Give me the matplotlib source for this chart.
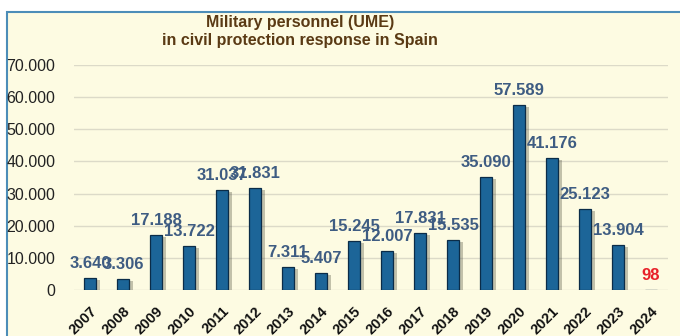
import matplotlib
matplotlib.use("Agg")
import matplotlib.pyplot as plt
from matplotlib.patches import Rectangle
import matplotlib.patheffects as pe

years = ["2007", "2008", "2009", "2010", "2011", "2012", "2013", "2014", "2015",
         "2016", "2017", "2018", "2019", "2020", "2021", "2022", "2023", "2024"]
values = [3640, 3306, 17188, 13722, 31037, 31831, 7311, 5407, 15245,
          12007, 17831, 15535, 35090, 57589, 41176, 25123, 13904, 98]
labels = ["3.640", "3.306", "17.188", "13.722", "31.037", "31.831", "7.311", "5.407", "15.245",
          "12.007", "17.831", "15.535", "35.090", "57.589", "41.176", "25.123", "13.904", "98"]
yticks = [0, 10000, 20000, 30000, 40000, 50000, 60000, 70000]
ytick_labels = ["0", "10.000", "20.000", "30.000", "40.000", "50.000", "60.000", "70.000"]
title = "Military personnel (UME)\nin civil protection response in Spain"

plt.rcParams['font.family'] = ['Liberation Sans', 'DejaVu Sans']

W, H = 680, 336
fig = plt.figure(figsize=(W / 100, H / 100), dpi=100)
fig.patch.set_facecolor("white")

bg = "#FDFBE2"
# framed panel
fig.patches.append(Rectangle((7 / W, -0.02), 1.0, (H - 12) / H + 0.02, transform=fig.transFigure,
                             facecolor=bg, edgecolor="#4C8DB8", linewidth=1.5, zorder=-5))

ax = fig.add_axes([73.5 / W, (H - 290) / H, (667.5 - 73.5) / W, (290 - 65) / H])
ax.set_facecolor("none")
ax.set_zorder(2)
x = list(range(len(years)))
bars = ax.bar(x, values, width=0.34, color="#1C6598", edgecolor="#0B2C48", linewidth=0.9, zorder=3)
for b in bars:
    b.set_path_effects([pe.SimplePatchShadow(offset=(3, -1.5), shadow_rgbFace="#555544", alpha=0.35),
                        pe.Normal()])

for xi, v, lab in zip(x, values, labels):
    color = "#E8222A" if lab == "98" else "#3E5C82"
    ax.annotate(lab, (xi, v), xytext=(0, 5), textcoords="offset points", ha="center", va="bottom",
                fontsize=12, fontweight="bold", color=color, zorder=5)

ax.set_xlim(-0.5, len(years) - 0.5)
ax.set_ylim(0, 70000)
ax.set_yticks(yticks)
ax.set_yticklabels(ytick_labels, fontsize=11.5, color="#222222")
ax.set_xticks(x)
ax.set_xticklabels(years, rotation=45, ha="right", va="top", rotation_mode="anchor",
                   fontsize=10.5, fontweight="bold", color="#111111")
ax.tick_params(axis="both", length=0)
ax.tick_params(axis="y", pad=13)
ax.tick_params(axis="x", pad=10)
for s in ax.spines.values():
    s.set_visible(False)
ax.yaxis.grid(True, color="#DCDAC8", linewidth=1.0, zorder=0)
ax.set_axisbelow(True)

fig.text(300 / W, (H - 32) / H, title, ha="center", va="center", fontsize=11.5, fontweight="bold",
         color="#5A3A14", linespacing=1.25)

fig.savefig("out.png", dpi=100, facecolor=fig.get_facecolor())
